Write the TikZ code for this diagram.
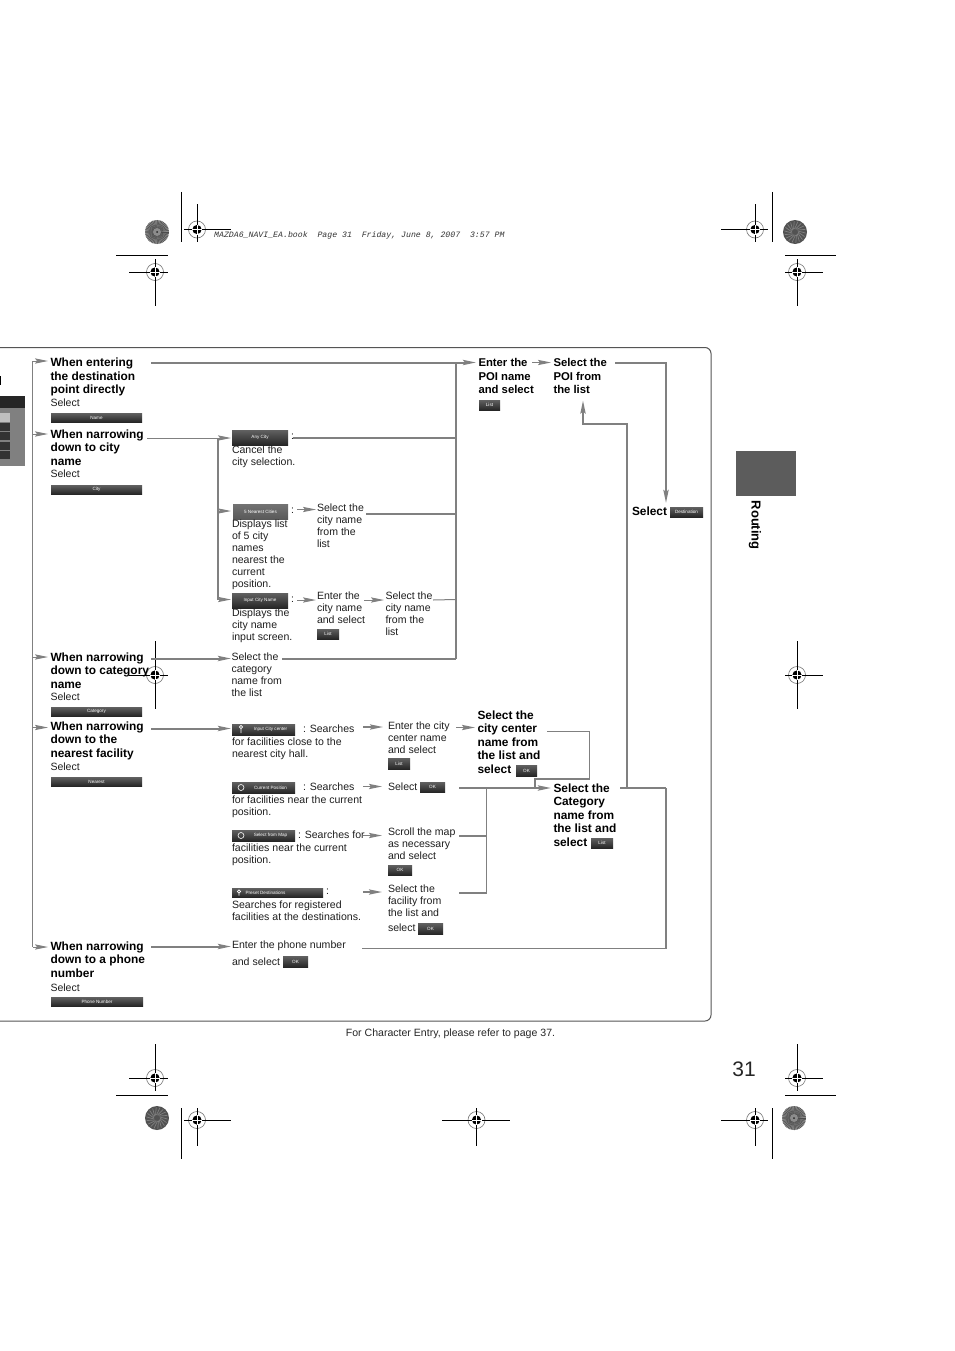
\documentclass[tikz,border=0pt]{standalone}
\usepackage{fontspec}
\setmainfont{Liberation Sans}
\newfontfamily\monoit[Scale=1]{Liberation Mono}
\usetikzlibrary{arrows.meta}
\definecolor{conn}{HTML}{808080}
\definecolor{framec}{HTML}{555555}
\tikzset{
 x=1pt,y=-1pt,
 body/.style={anchor=north west,yshift=-1pt,inner sep=0pt,outer sep=0pt,align=left,text=black!88,font=\fontsize{10.55}{12}\selectfont},
 head/.style={anchor=north west,yshift=-1pt,inner sep=0pt,outer sep=0pt,align=left,text=black,font=\fontsize{11.9}{13.5}\selectfont\bfseries},
 poihead/.style={head,font=\fontsize{11.3}{13.5}\selectfont\bfseries},
 btn/.style={inner sep=0pt,outer sep=0pt,top color=black!62,bottom color=black!85,text=white,font=\fontsize{4.6}{5}\selectfont},
 litebtn/.style={btn,top color=black!55,bottom color=black!65},
 thin line/.style={draw=conn,line width=1pt},
 mid line/.style={draw=conn,line width=1.6pt},
 thick line/.style={draw=conn,line width=2pt},
 arr/.style={-{Stealth[length=13pt,width=5.2pt,inset=2pt,color=conn]}},
 crop/.style={draw=black,line width=1pt},
 icon/.style={draw=white,line width=.6pt},
}
\newcommand{\btnbox}[6]{\node[btn,minimum width={(#4-#2)*1pt},minimum height={(#5-#3)*1pt}] (#1) at ({(#2+#4)/2},{(#3+#5)/2}) {#6};}
\newcommand{\regmark}[6]{%
 \draw[draw=black!55,line width=.6pt] (#1,#2) circle (8.5);
 \fill[black] (#1,#2) circle (4.6);
 \draw[draw=black,line width=1pt] (#3,#2) -- (#4,#2) (#1,#5) -- (#1,#6);
 \draw[draw=white,line width=.5pt] (#1-5,#2) -- (#1+5,#2) (#1,#2-5) -- (#1,#2+5);
}
\newcommand{\radial}[2]{%
 \fill[black!45] (#1,#2) circle (12);
 \foreach \a in {0,8,...,352}{\draw[black!70,line width=.5pt] (#1,#2) ++(\a:3) -- ++(\a:9);}
 \fill[black!45] (#1,#2) circle (4);
 \fill[black!85] (#1,#2) circle (1);
}
\newcommand{\noisy}[2]{%
 \fill[black!68] (#1,#2) circle (12);
 \foreach \a in {0,20,...,340}{\draw[black!50,line width=.7pt] (#1,#2) ++(\a:3) -- ++(\a+35:8);}
}
\begin{document}
\begin{tikzpicture}
\useasboundingbox (0,0) rectangle (954,1351);
\fill[white] (0,0) rectangle (954,1351);

% printer's marks
\radial{157}{232}
\noisy{795}{232}
\noisy{157}{1118}
\radial{794}{1118}
\regmark{197}{229.5}{184}{231}{204}{242}
\regmark{755}{229.5}{721}{768}{204}{242}
\regmark{155}{272}{129}{168}{259}{306}
\regmark{797}{272}{785}{823}{259}{306}
\regmark{155}{675}{129}{168}{641}{709}
\regmark{797}{675}{785}{823}{641}{709}
\regmark{155}{1078}{129}{168}{1044}{1091}
\regmark{797}{1078}{785}{823}{1044}{1091}
\regmark{197}{1120}{184}{231}{1108}{1146}
\regmark{476.5}{1120}{442}{510}{1108}{1146}
\regmark{755}{1120}{721}{768}{1108}{1146}
\draw[crop] (181,192) -- (181,242) (772,192) -- (772,242) (116,255) -- (168,255) (785,255) -- (836,255);
\draw[crop] (116,1095) -- (168,1095) (785,1095) -- (836,1095) (181,1108) -- (181,1159) (772,1108) -- (772,1159);
\node[inner sep=0pt,anchor=base west,text=black!80,font=\monoit\itshape\fontsize{8.2}{9}\selectfont] (bookline) at (214,237.5) {MAZDA6\_NAVI\_EA.book\ \ Page 31\ \ Friday, June 8, 2007\ \ 3:57 PM};

% frame
\draw[draw=framec,line width=1pt,rounded corners=6pt] (0,347.5) -- (711,347.5) -- (711,1021) -- (0,1021);

% left sliver of the screen
\fill[black!50] (0,396) rectangle (25,466);
\fill[black!85] (0,396) rectangle (25,408);
\fill[black!25] (0,413) rectangle (10,421.5);
\foreach \y in {423,432,441.5,451}{\fill[black!80] (0,\y) rectangle (10,\y+8);}
\fill[black] (0,376) rectangle (1.2,385);

% tab
\fill[black!64] (736,451) rectangle (796,496);
\node[inner sep=0pt,rotate=-90,anchor=west,font=\fontsize{13}{14}\selectfont\bfseries] (routing) at (755,500.5) {Routing};
\node[inner sep=0pt,font=\fontsize{21}{24}\selectfont,text=black!85] (pageno) at (744,1069) {31};
\node[inner sep=0pt,font=\fontsize{10.55}{12}\selectfont,text=black!85] (note) at (450.5,1033.5) {For Character Entry, please refer to page 37.};

% left column
\node[head] (h1) at (50.5,357) {When entering\\the destination\\point directly};
\node[body] (s1) at (50.5,397.5) {Select};
\btnbox{b1}{51}{413}{142}{422}{Name}
\node[head] (h2) at (50.5,428.5) {When narrowing\\down to city\\name};
\node[body] (s2) at (50.5,468.5) {Select};
\btnbox{b2}{51}{485}{142}{494}{City}
\node[head] (h3) at (50.5,651.5) {When narrowing\\down to category\\name};
\node[body] (s3) at (50.5,691.5) {Select};
\btnbox{b3}{51}{707}{142}{716}{Category}
\node[head] (h4) at (50.5,720.5) {When narrowing\\down to the\\nearest facility};
\node[body] (s4) at (50.5,761.5) {Select};
\btnbox{b4}{51}{777}{142}{786}{Nearest}
\node[head] (h5) at (50.5,940.5) {When narrowing\\down to a phone\\number};
\node[body] (s5) at (50.5,982.5) {Select};
\btnbox{b5}{51}{997}{143}{1006}{Phone Number}

% city column
\btnbox{any}{232}{430}{288}{445}{Any City}
\node[body] (anyc) at (291,433) {:};
\node[body] (anyt) at (232,444.5) {Cancel the\\city selection.};
\node[litebtn,minimum width=55pt,minimum height=15pt] (near) at (260.5,511.5) {5 Nearest Cities};
\node[body] (nearc) at (291,506.5) {:};
\node[body] (neart) at (232,518.5) {Displays list\\of 5 city\\names\\nearest the\\current\\position.};
\btnbox{inp}{232}{593}{288}{608}{Input City Name}
\node[body] (inpc) at (291,595.5) {:};
\node[body] (inpt) at (232,607.5) {Displays the\\city name\\input screen.};
\node[body] (selcat) at (231.5,652) {Select the\\category\\name from\\the list};
\node[body] (selc1) at (317,503) {Select the\\city name\\from the\\list};
\node[body] (entc) at (317,591) {Enter the\\city name\\and select};
\btnbox{lst1}{317}{629}{339}{639}{List}
\node[body] (selc2) at (385.5,591) {Select the\\city name\\from the\\list};

% POI
\node[poihead] (poi1) at (478.5,357.5) {Enter the\\POI name\\and select};
\btnbox{lst2}{479}{400}{500}{410}{List}
\node[poihead] (poi2) at (553.5,357.5) {Select the\\POI from\\the list};
\node[head] (dest) at (632,505.5) {Select};
\btnbox{dbt}{670}{507}{703}{517}{Destination}

% nearest column
\btnbox{n1}{232}{724}{295}{735}{\hspace*{14pt}Input City center}
\draw[icon] (241,727) circle (1.6) (241,729) -- (241,733);
\node[body] (n1a) at (303,724) {: Searches};
\node[body] (n1b) at (232,737) {for facilities close to the\\nearest city hall.};
\btnbox{n2}{232}{782}{295}{793}{\hspace*{14pt}Current Position}
\draw[icon] (241,787.5) circle (3);
\node[body] (n2a) at (303,782) {: Searches};
\node[body] (n2b) at (232,795) {for facilities near the current\\position.};
\btnbox{n3}{232}{830}{295}{841}{\hspace*{14pt}Select from Map}
\draw[icon] (241,835.5) circle (3);
\node[body] (n3a) at (298,830) {: Searches for};
\node[body] (n3b) at (232,843) {facilities near the current\\position.};
\btnbox{n4}{232}{888}{323}{897}{Preset Destinations\hspace*{24pt}}
\draw[icon] (239,891.5) circle (1.6) (239,893.5) -- (239,895.5);
\node[body] (n4a) at (326,887.5) {:};
\node[body] (n4b) at (232,900) {Searches for registered\\facilities at the destinations.};
\node[body] (ph1) at (232,940) {Enter the phone number};
\node[body] (ph2) at (232,956.5) {and select};
\btnbox{okp}{283}{956}{308}{967}{OK}

% steps
\node[body] (st1) at (388,720.5) {Enter the city\\center name\\and select};
\btnbox{lst3}{388}{758}{410}{769}{List}
\node[body] (st2) at (388,781.5) {Select};
\btnbox{ok2}{420}{782}{445}{792}{OK}
\node[body] (st3) at (388,826.5) {Scroll the map\\as necessary\\and select};
\btnbox{ok3}{388}{865}{412}{875}{OK}
\node[body] (st4) at (388,883.5) {Select the\\facility from\\the list and};
\node[body] (st4b) at (388,922.5) {select};
\btnbox{ok4}{418}{923}{443}{934}{OK}

\node[head] (cc) at (477.5,709.5) {Select the\\city center\\name from\\the list and\\select};
\btnbox{ok5}{516}{765}{537}{776}{OK}
\node[head] (cat) at (553.5,782.5) {Select the\\Category\\name from\\the list and\\select};
\btnbox{lst5}{591}{838}{613}{848}{List}

% connector end points
\foreach \n/\x/\y in {
 tT/32.5/361, t2/32.5/434, t3/32.5/657, t4/32.5/727.5, tB/32.5/947,
 aT/48/361, a2/48/434, a3/48/657, a4/48/727.5, aB/48/947,
 top0/151/362.5, jTop/455.5/362.5, top1/476/362.5,
 cit0/147/438, cj0/217.5/438, cj1/217.5/511, cj2/217.5/599.5, ca0/231/438, ca1/231/511, ca2/231/599.5,
 ro0/293/438, j0/455.5/438, ro1/366/513.5, j1/455.5/513.5, ro2/433/600, j2/455.5/599.5,
 cat0/151/658.5, cat1/231/658.5, ro3/282/658.5, j3/455.5/658.5,
 f1a/297/509.5, f1b/316/509.5, f2a/297/600, f2b/316/600, f3a/364/600, f3b/384/600,
 p0/532/362.5, p1/551/362.5,
 d0/615/362.5, d1/666/362.5, d2/666/503,
 u0/627/788, u1/627/424, u2/583/424, u3/583/400.5,
 l0/620/788, l1/666/788, l2/666/948.5, l3/362/948.5,
 nf0/151/728.5, nf1/231/728.5, ph0/151/946.5, ph9/231/946.5,
 m1a/363/727, m1b/383/727, m2a/363/786.5, m2b/382/786.5, m3a/363/835.5, m3b/382/835.5, m4a/363/892, m4b/382/892,
 q0/456/727.5, q1/475/727.5,
 cc0/547/731.5, cc1/589.5/731.5, cc2/589.5/779, cc3/535/779, cc4/535/788,
 g0/459/788, g1/551/788, gj/486.5/788, g2a/459/836, g2j/486.5/836, g3a/459/893, g3j/486.5/893
 }{\coordinate (\n) at (\x,\y);}

% connectors
\draw[thin line] (tT) -- (tB);
\foreach \a/\b in {tT/aT,t2/a2,t3/a3,t4/a4,tB/aB}{\draw[thin line,arr] (\a) -- (\b);}
\draw[thick line,arr] (top0) -- (top1);
\draw[thick line] (jTop) -- (j3);
\draw[thick line] (ro0) -- (j0);
\draw[thick line] (ro1) -- (j1);
\draw[thin line] (ro2) -- (j2);
\draw[thick line] (ro3) -- (j3);
\draw[thin line] (cit0) -- (cj0);
\draw[thick line] (cj0) -- (cj2);
\draw[thin line,arr] (cj0) -- (ca0);
\draw[thin line,arr] (cj1) -- (ca1);
\draw[thin line,arr] (cj2) -- (ca2);
\draw[thick line,arr] (cat0) -- (cat1);
\draw[thin line,arr] (f1a) -- (f1b);
\draw[thin line,arr] (f2a) -- (f2b);
\draw[thin line,arr] (f3a) -- (f3b);
\draw[thin line,arr] (p0) -- (p1);
\draw[thick line,arr,line join=miter] (d0) -- (d1) -- (d2);
\draw[thick line,arr] (u0) -- (u1) -- (u2) -- (u3);
\draw[mid line] (l0) -- (l1);
\draw[thick line] (l1) -- (l2);
\draw[thin line] (l2) -- (l3);
\draw[thick line,arr] (nf0) -- (nf1);
\draw[thick line,arr] (ph0) -- (ph9);
\draw[mid line,arr] (m1a) -- (m1b);
\draw[mid line,arr] (m2a) -- (m2b);
\draw[mid line,arr] (m3a) -- (m3b);
\draw[mid line,arr] (m4a) -- (m4b);
\draw[mid line,arr] (q0) -- (q1);
\draw[mid line] (cc0) -- (cc1) -- (cc2) -- (cc3) -- (cc4);
\draw[thick line,arr] (g0) -- (g1);
\draw[mid line] (gj) -- (g3j);
\draw[mid line] (g2a) -- (g2j);
\draw[mid line] (g3a) -- (g3j);
\end{tikzpicture}
\end{document}
